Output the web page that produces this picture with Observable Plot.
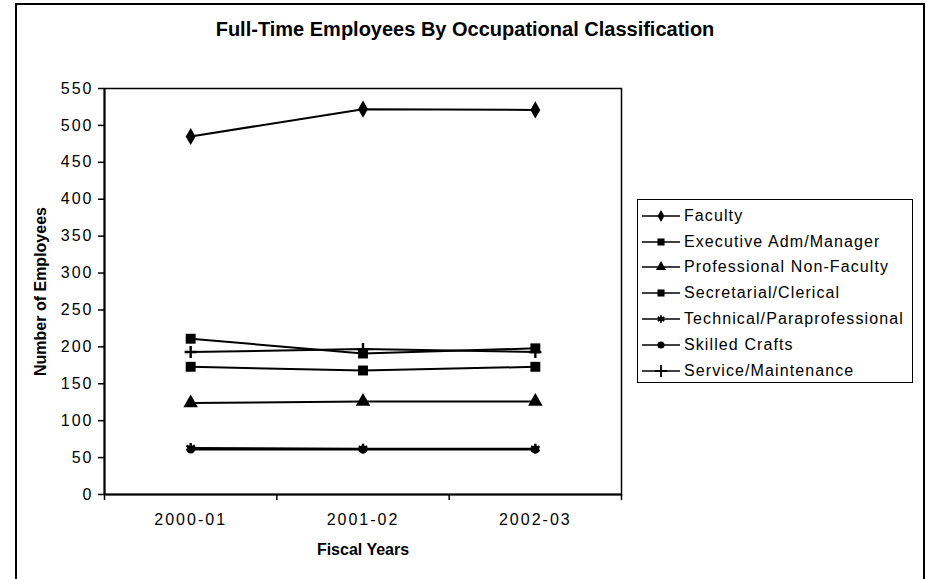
<!DOCTYPE html>
<html>
<head>
<meta charset="utf-8">
<script src="https://cdn.jsdelivr.net/npm/d3@7"></script>
<script src="https://cdn.jsdelivr.net/npm/@observablehq/plot@0.6"></script>
<style>
  html, body { margin: 0; padding: 0; background: #fff; overflow: hidden; }
  #wrap { position: relative; width: 930px; height: 579px; font-family: "Liberation Sans", Arial, sans-serif; color: #000; }
  #border { position: absolute; left: 15px; top: 3px; width: 910px; height: 620px; border: 2px solid #000; box-sizing: border-box; }
  #title { position: absolute; left: 0; width: 930px; top: 18px; text-align: center; font-weight: bold; font-size: 20px; }
  #chart { position: absolute; left: 0; top: 0; }
  #chart g[aria-label="y-axis tick label"] text,
  #chart g[aria-label="x-axis tick label"] text { letter-spacing: 2px; }
  #legend { position: absolute; left: 637px; top: 199px; width: 276px; height: 184px; border: 1px solid #000; box-sizing: border-box; background: #fff; padding-top: 3px; }
  .row { height: 25.8px; display: flex; align-items: center; font-size: 16px; letter-spacing: 1.1px; white-space: nowrap; }
  .row svg { margin-left: 4px; margin-right: 4px; flex: none; }
</style>
</head>
<body>
<div id="wrap">
  <div id="border"></div>
  <div id="chart"></div>
  <div id="title">Full-Time Employees By Occupational Classification</div>
  <div id="legend"></div>
</div>
<script>
// ---- data ----
const years = ["2000-01", "2001-02", "2002-03"];
const seriesNames = [
  "Faculty",
  "Executive Adm/Manager",
  "Professional Non-Faculty",
  "Secretarial/Clerical",
  "Technical/Paraprofessional",
  "Skilled Crafts",
  "Service/Maintenance"
];
const faculty = [485, 522, 521];
const executive = [173, 168, 173];
const professional = [124, 126, 126];
const secretarial = [211, 191, 198];
const technical = [63, 62, 62];
const skilled = [61, 61, 61];
const service = [193, 197, 193];
const yTicks = [0, 50, 100, 150, 200, 250, 300, 350, 400, 450, 500, 550];

const seriesValues = [faculty, executive, professional, secretarial, technical, skilled, service];
// marker styles per series
const markers = [
  {plot: "diamond", d3: d3.symbolDiamond, filled: true, r: 5.2, lsize: 40},
  {plot: "square", d3: d3.symbolSquare, filled: true, r: 5.6, lsize: 50},
  {plot: "triangle", d3: d3.symbolTriangle, filled: true, r: 5.4, lsize: 45},
  {plot: "square", d3: d3.symbolSquare, filled: true, r: 5.6, lsize: 50},
  {plot: "asterisk", d3: d3.symbolAsterisk, filled: false, r: 4.6, lsize: 40},
  {plot: "circle", d3: d3.symbolCircle, filled: true, r: 4, lsize: 40},
  {plot: "plus", d3: d3.symbolPlus, filled: false, r: 4, lsize: 50}
];

const table = [];
seriesNames.forEach((name, s) => {
  seriesValues[s].forEach((v, i) => table.push({series: name, s, i, value: v}));
});

const idx = years.map((_, i) => i);
const bounds = d3.range(-0.5, years.length, 1);

const marks = [
  Plot.frame({stroke: "#000", strokeWidth: 1.5}),
  Plot.axisY(yTicks, {tickSize: 6, tickPadding: 5, strokeWidth: 1.5, label: null, fontSize: 16}),
  Plot.ruleX([-0.5], {stroke: "#000", strokeWidth: 2}),
  Plot.ruleY([0], {stroke: "#000", strokeWidth: 2}),
  Plot.axisX(bounds, {tickSize: 6, tickFormat: () => "", label: null, strokeWidth: 1.5}),
  Plot.axisX(idx, {tickSize: 0, tickPadding: 19, tickFormat: i => years[i], label: null, fontSize: 16}),
  Plot.line(table, {x: "i", y: "value", z: "series", stroke: "#000", strokeWidth: 2})
];
seriesNames.forEach((name, s) => {
  const m = markers[s];
  const data = table.filter(d => d.s === s);
  if (m.filled) {
    marks.push(Plot.dot(data, {x: "i", y: "value", symbol: m.plot, r: m.r, fill: "#000", stroke: "none"}));
  } else {
    marks.push(Plot.dot(data, {x: "i", y: "value", symbol: m.plot, r: m.r, fill: "none", stroke: "#000", strokeWidth: 2.4}));
  }
});
// axis titles
marks.push(Plot.text(["Fiscal Years"], {frameAnchor: "bottom", dy: 60, fontWeight: "bold", fontSize: 16, text: d => d}));
marks.push(Plot.text(["Number of Employees"], {frameAnchor: "left", textAnchor: "middle", dx: -64, rotate: -90, fontWeight: "bold", fontSize: 16, text: d => d}));

const chart = Plot.plot({
  width: 930,
  height: 579,
  marginLeft: 104,
  marginRight: 309,
  marginTop: 88,
  marginBottom: 85,
  style: {fontFamily: "'Liberation Sans', Arial, sans-serif", fontSize: "16px", background: "transparent", color: "#000", overflow: "visible"},
  x: {type: "linear", domain: [-0.5, years.length - 0.5], axis: null},
  y: {domain: [0, 550], axis: null},
  marks
});
document.getElementById("chart").appendChild(chart);

// legend
const legend = d3.select("#legend");
seriesNames.forEach((name, s) => {
  const m = markers[s];
  const row = legend.append("div").attr("class", "row");
  const svg = row.append("svg").attr("width", 38).attr("height", 14);
  svg.append("line").attr("x1", 0).attr("x2", 38).attr("y1", 7).attr("y2", 7).attr("stroke", "#000").attr("stroke-width", 1.5);
  const p = svg.append("path").attr("transform", "translate(19,7)").attr("d", d3.symbol(m.d3, m.lsize)());
  if (m.filled) p.attr("fill", "#000");
  else p.attr("fill", "none").attr("stroke", "#000").attr("stroke-width", 1.8);
  row.append("span").text(name);
});
</script>
</body>
</html>
